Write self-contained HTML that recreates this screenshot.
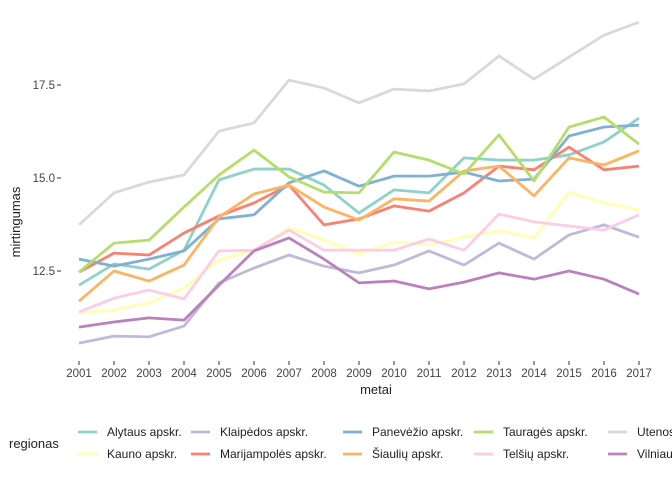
<!DOCTYPE html>
<html><head><meta charset="utf-8"><style>
body{margin:0;background:#fff;font-family:"Liberation Sans",sans-serif;}
</style></head><body>
<svg id="chart" width="672" height="480" xmlns="http://www.w3.org/2000/svg">
<g id="grid"></g>
<g id="lines"></g>
<g id="axes"></g>
<text x="376" y="394" font-size="13" fill="#222" text-anchor="middle">metai</text>
<text transform="translate(20,222) rotate(-90)" font-size="13" fill="#222" text-anchor="middle">mirtingumas</text>
<text x="9" y="448" font-size="13" fill="#222">regionas</text>
<g id="legend"></g>
</svg>
<script>
const years=[2001,2002,2003,2004,2005,2006,2007,2008,2009,2010,2011,2012,2013,2014,2015,2016,2017];
const names=["Alytaus apskr.","Kauno apskr.","Klaipėdos apskr.","Marijampolės apskr.","Panevėžio apskr.","Šiaulių apskr.","Tauragės apskr.","Telšių apskr.","Utenos apskr.","Vilniaus apskr."];
const colors=["#8DD3C7","#FFFFB3","#BEBADA","#FB8072","#80B1D3","#FDB462","#B3DE69","#FCCDE5","#D9D9D9","#BC80BD"];
const alytaus=[12.12,12.69,12.55,13.06,14.95,15.24,15.24,14.81,14.06,14.68,14.60,15.54,15.48,15.48,15.62,15.97,16.61];
const kauno=[11.37,11.45,11.64,12.04,12.80,13.06,13.66,13.33,12.96,13.28,13.20,13.41,13.58,13.39,14.62,14.33,14.14];
const klaipedos=[10.56,10.75,10.73,11.02,12.18,12.58,12.93,12.63,12.45,12.66,13.04,12.66,13.25,12.82,13.47,13.74,13.41];
const marijampoles=[12.47,12.98,12.93,13.52,13.98,14.33,14.81,13.74,13.90,14.25,14.11,14.60,15.32,15.22,15.83,15.22,15.32];
const panevezio=[12.82,12.63,12.82,13.04,13.90,14.01,14.87,15.19,14.78,15.05,15.05,15.16,14.92,14.97,16.13,16.37,16.42];
const siauliu=[11.69,12.50,12.23,12.66,13.95,14.57,14.81,14.22,13.87,14.44,14.38,15.19,15.32,14.52,15.54,15.35,15.73];
const taurages=[12.47,13.25,13.33,14.22,15.08,15.75,15.03,14.62,14.60,15.70,15.48,15.11,16.16,14.92,16.37,16.64,15.91];
const telsiu=[11.40,11.77,11.99,11.75,13.04,13.06,13.60,13.06,13.06,13.06,13.36,13.06,14.03,13.82,13.71,13.60,14.01];
const utenos=[13.74,14.60,14.89,15.08,16.26,16.48,17.63,17.42,17.02,17.39,17.34,17.53,18.28,17.66,18.25,18.84,19.19];
const vilniaus=[10.99,11.13,11.24,11.18,12.12,13.04,13.39,12.82,12.18,12.23,12.02,12.20,12.45,12.28,12.50,12.28,11.88];
const series=[alytaus,kauno,klaipedos,marijampoles,panevezio,siauliu,taurages,telsiu,utenos,vilniaus];
const yTicks=[12.5,15.0,17.5];
const yTickLabels=["12.5","15.0","17.5"];
const NS="http://www.w3.org/2000/svg";
const x=v=>79+(v-2001)*(639-79)/16;
const y=v=>178-(v-15)*37.2;
function mk(t,a,p){const e=document.createElementNS(NS,t);for(const k in a)e.setAttribute(k,a[k]);p.appendChild(e);return e;}
const axes=document.getElementById('axes');
yTicks.forEach((t,i)=>{
 const tk=mk('line',{x1:57,x2:61,y1:y(t),y2:y(t),stroke:'#333','stroke-width':1},axes);
 
 
 const tx=mk('text',{x:55,y:y(t)+4,'font-size':11.5,fill:'#444','text-anchor':'end'},axes);
 tx.textContent=yTickLabels[i];
 
 
});
years.forEach(yr=>{
 const tk=mk('line',{x1:x(yr),x2:x(yr),y1:361,y2:365,stroke:'#333','stroke-width':1},axes);
 
 
 const tx=mk('text',{x:x(yr),y:377,'font-size':11.5,fill:'#444','text-anchor':'middle'},axes);
 tx.textContent=yr;
 
 
});
const lines=document.getElementById('lines');
series.forEach((s,i)=>{
 const pts=s.map((v,j)=>x(years[j])+','+y(v)).join(' ');
 const pl=mk('polyline',{points:pts,fill:'none',stroke:colors[i],'stroke-width':2.8,'stroke-linejoin':'round'},lines);
 
 
});
const leg=document.getElementById('legend');
const colX=[78,191,343,474,608];
names.forEach((n,i)=>{
 const c=Math.floor(i/2), r=i%2;
 const ly=432+r*22;
 const k=mk('line',{x1:colX[c],x2:colX[c]+19,y1:ly,y2:ly,stroke:colors[i],'stroke-width':2.8},leg);
 
 
 const t=mk('text',{x:colX[c]+29,y:ly+4,'font-size':12,fill:'#222'},leg);
 t.textContent=n;
 
 
});
</script>
</body></html>
